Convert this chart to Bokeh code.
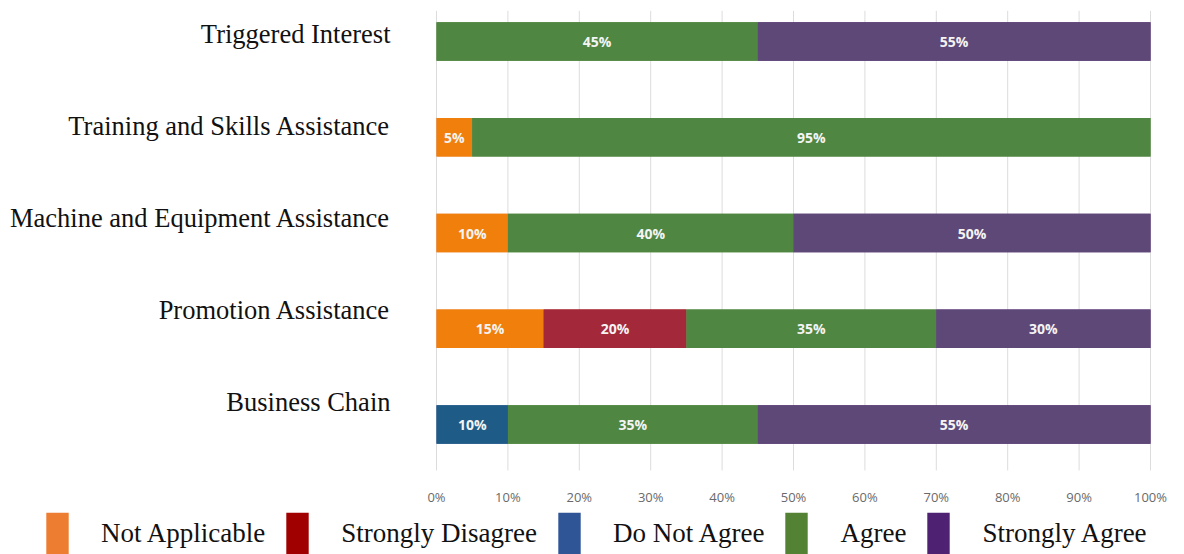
from bokeh.plotting import figure
from bokeh.models import ColumnDataSource, Range1d, Legend, LegendItem
from bokeh.core.properties import value
from bokeh.embed import file_html
from bokeh.resources import INLINE

categories = ["Triggered Interest", "Training and Skills Assistance",
              "Machine and Equipment Assistance", "Promotion Assistance", "Business Chain"]
not_applicable = [0, 5, 10, 15, 0]
strongly_disagree = [0, 0, 0, 20, 0]
do_not_agree = [0, 0, 0, 0, 10]
agree = [45, 95, 40, 35, 35]
strongly_agree = [55, 0, 50, 30, 55]

series_names = ["Not Applicable", "Strongly Disagree", "Do Not Agree", "Agree", "Strongly Agree"]
series_values = [not_applicable, strongly_disagree, do_not_agree, agree, strongly_agree]
bar_colors = ["#F07F0C", "#A3283A", "#1E5B86", "#4E8642", "#5E4878"]
legend_colors = ["#ED7D31", "#A00000", "#2F5597", "#548235", "#4E2172"]
x_ticks = [0, 10, 20, 30, 40, 50, 60, 70, 80, 90, 100]
x_tick_labels = [f"{t}%" for t in x_ticks]

n = len(categories)
ypos = [n - 1 - i for i in range(n)]
grid_bottom = min(ypos) - 0.48
grid_top = max(ypos) + 0.32

# the frame covers the whole canvas; the ranges place 0%..100% at x=436..1150 px
p = figure(width=1184, height=554, output_backend="svg", toolbar_location=None,
           x_range=Range1d(-61.064, 104.762), y_range=Range1d(-1.3577, 4.4282),
           x_axis_location=None, y_axis_location=None, min_border=0)
p.outline_line_color = None
p.background_fill_color = "white"
p.border_fill_color = "white"
p.grid.visible = False
p.extra_y_ranges = {"labels": Range1d(-1.648, 4.358)}

# vertical grid lines at the tick values
p.segment(x0=x_ticks, y0=[grid_bottom] * len(x_ticks), x1=x_ticks,
          y1=[grid_top] * len(x_ticks), line_color="#dcdcdc", line_width=1)

# legend swatch renderers, drawn exactly under the bars (so they stay hidden)
items = []
left = [0] * n
for name, vals, col in zip(series_names, series_values, legend_colors):
    right = [l + v for l, v in zip(left, vals)]
    src = ColumnDataSource(dict(y=ypos, left=left, right=right))
    r = p.hbar(y="y", left="left", right="right", height=0.4, source=src,
               fill_color=col, line_color=None)
    items.append(LegendItem(label=name, renderers=[r], index=0))
    left = right

# stacked segments
left = [0] * n
lab_x, lab_y, lab_t = [], [], []
for name, vals, col in zip(series_names, series_values, bar_colors):
    right = [l + v for l, v in zip(left, vals)]
    src = ColumnDataSource(dict(y=ypos, left=left, right=right))
    p.hbar(y="y", left="left", right="right", height=0.4, source=src,
           fill_color=col, line_color=None)
    for i, v in enumerate(vals):
        if v > 0:
            lab_x.append(left[i] + v / 2)
            lab_y.append(ypos[i])
            lab_t.append(f"{v}%")
    left = right

p.text(x=lab_x, y=lab_y, text=lab_t, text_align="center", text_baseline="middle",
       text_color="#F4F4F4", text_font=value("Open Sans"), text_font_style="bold",
       text_font_size="14px")

# x tick labels
p.text(x=x_ticks, y=[grid_bottom] * len(x_ticks), text=x_tick_labels, y_offset=27,
       text_align="center", text_baseline="middle", text_color="#6a6a6a",
       text_font=value("Open Sans"), text_font_size="13px")

# category labels
p.text(x=[0] * n, y=ypos, text=categories, x_offset=-46, y_range_name="labels",
       text_align="right", text_baseline="middle", text_color="#111111",
       text_font=value("Liberation Serif"), text_font_size="26.5px")

legend = Legend(items=items, orientation="horizontal", location=(43, -5),
                glyph_width=28, glyph_height=52, label_standoff=30, spacing=18,
                padding=0, margin=0, border_line_color=None, background_fill_alpha=0,
                label_text_font="Liberation Serif", label_text_font_size="27px",
                label_text_color="#111111", label_height=52)
p.add_layout(legend, "center")

open("out.html", "w").write(file_html(p, INLINE))
